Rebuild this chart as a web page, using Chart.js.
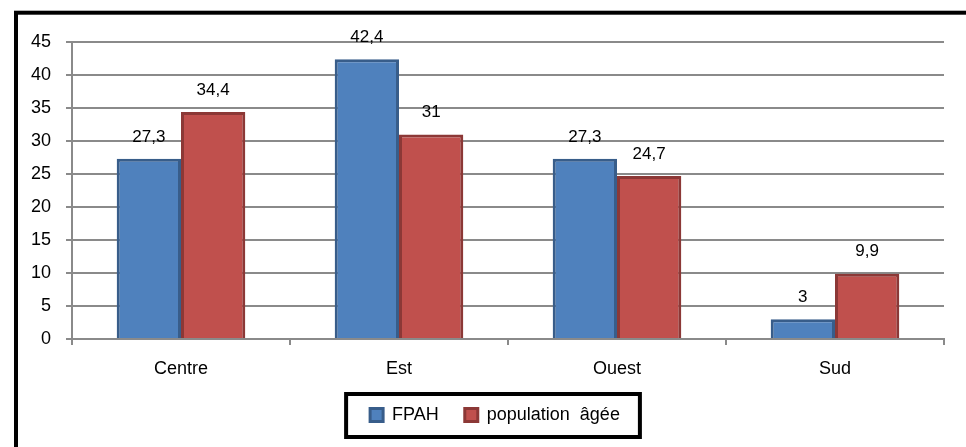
<!DOCTYPE html>
<html>
<head>
<meta charset="utf-8">
<script src="https://cdn.jsdelivr.net/npm/chart.js@4.4.1/dist/chart.umd.min.js"></script>
<style>
  html, body { margin: 0; padding: 0; background: #fff; overflow: hidden; }
  #wrap { width: 966px; height: 447px; }
</style>
</head>
<body>
<div id="wrap"><canvas id="regionChart" width="966" height="447"></canvas></div>
<script>
const regions = ["Centre", "Est", "Ouest", "Sud"];
const fpah = [27.3, 42.4, 27.3, 3];
const populationAgee = [34.4, 31, 24.7, 9.9];
const seriesNames = ["FPAH", "population  âgée"];

const FONT = "'Liberation Sans', Arial, sans-serif";
const GRID = "#8a8a8a";

// outer frame of the picture
const framePlugin = {
    id: "frame",
    beforeDraw(chart) {
        const ctx = chart.ctx;
        ctx.save();
        ctx.fillStyle = "#fff";
        ctx.fillRect(0, 0, chart.width, chart.height);
        ctx.strokeStyle = "#000";
        ctx.lineWidth = 4;
        ctx.strokeRect(16, 12.7, 1000, 500);
        ctx.restore();
    },
    // legend sits a bit right of the canvas centre
    afterLayout(chart) {
        if (chart.legend) chart.legend.left += 46;
    }
};

// value labels above bars, with comma decimals
const valueLabels = {
    id: "valueLabels",
    afterDatasetsDraw(chart) {
        const ctx = chart.ctx;
        ctx.save();
        ctx.font = "17px " + FONT;
        ctx.fillStyle = "#000";
        ctx.textAlign = "center";
        ctx.textBaseline = "middle";
        chart.data.datasets.forEach((ds, i) => {
            chart.getDatasetMeta(i).data.forEach((bar, j) => {
                ctx.fillText(String(ds.data[j]).replace(".", ","), bar.x, bar.y - 22);
            });
        });
        ctx.restore();
    }
};

// thick box round the legend
const legendBox = {
    id: "legendBox",
    afterDraw(chart) {
        const boxes = chart.legend && chart.legend.legendHitBoxes;
        if (!boxes || !boxes.length) return;
        const first = boxes[0], last = boxes[boxes.length - 1];
        const cy = first.top + first.height / 2;
        const ctx = chart.ctx;
        ctx.save();
        ctx.strokeStyle = "#000";
        ctx.lineWidth = 4;
        const l = first.left - 24, r = last.left + last.width + 20;
        ctx.strokeRect(l, cy - 21, r - l, 43);
        ctx.restore();
    }
};

new Chart(document.getElementById("regionChart"), {
    type: "bar",
    data: {
        labels: regions,
        datasets: [{
            label: seriesNames[0],
            data: fpah,
            backgroundColor: "#4F81BD",
            borderColor: "#385D8A",
            borderWidth: 3,
            borderSkipped: "start",
            categoryPercentage: 0.59,
            barPercentage: 1
        }, {
            label: seriesNames[1],
            data: populationAgee,
            backgroundColor: "#C0504D",
            borderColor: "#8C3836",
            borderWidth: 3,
            borderSkipped: "start",
            categoryPercentage: 0.59,
            barPercentage: 1
        }]
    },
    options: {
        responsive: false,
        animation: false,
        devicePixelRatio: 1,
        layout: {
            padding: { top: 42, right: 22, bottom: 13, left: 0 }
        },
        plugins: {
            legend: {
                position: "bottom",
                labels: {
                    font: { family: FONT, size: 18 },
                    color: "#000",
                    boxWidth: 13,
                    boxHeight: 13,
                    padding: 26
                }
            },
            tooltip: { enabled: false }
        },
        scales: {
            y: {
                min: 0,
                max: 45,
                ticks: {
                    stepSize: 5,
                    color: "#000",
                    padding: 15,
                    font: { family: FONT, size: 18 }
                },
                grid: { color: GRID, lineWidth: 2, tickLength: 6 },
                border: { color: GRID, width: 2 },
                afterFit(scale) { scale.width = 72; }
            },
            x: {
                z: 1,
                ticks: {
                    color: "#000",
                    padding: 13,
                    font: { family: FONT, size: 18 }
                },
                grid: { drawOnChartArea: false, color: GRID, lineWidth: 2, tickLength: 6 },
                border: { color: GRID, width: 2 },
                afterFit(scale) { scale.height = 41; }
            }
        }
    },
    plugins: [framePlugin, valueLabels, legendBox]
});
</script>
</body>
</html>
